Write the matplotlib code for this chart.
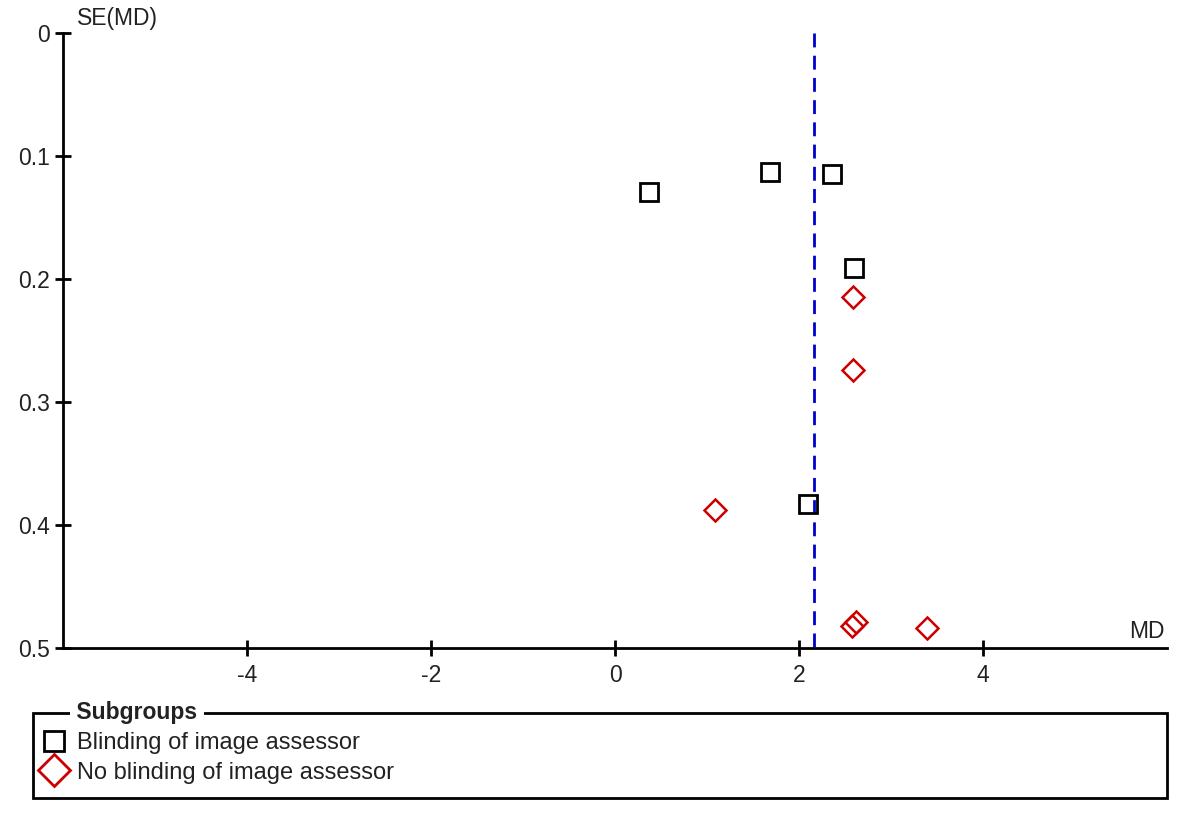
import numpy as np
import matplotlib.pyplot as plt
from matplotlib.patches import Rectangle
from matplotlib.lines import Line2D

plt.rcParams['font.family'] = ['Liberation Sans', 'DejaVu Sans']

# datos
md_blind = [0.37, 1.68, 2.36, 2.60, 2.10]
se_blind = [0.129, 0.113, 0.115, 0.191, 0.383]
md_noblind = [2.59, 2.59, 1.09, 2.58, 2.62, 3.39]
se_noblind = [0.215, 0.274, 0.388, 0.482, 0.479, 0.484]
md_pooled = 2.16

xticks = [-4, -2, 0, 2, 4]
yticks = [0, 0.1, 0.2, 0.3, 0.4, 0.5]
ytick_labels = ['0', '0.1', '0.2', '0.3', '0.4', '0.5']
grupos = ['Blinding of image assessor', 'No blinding of image assessor']

txt = '#222222'
rojo = '#cc0000'

fig = plt.figure(figsize=(12, 8.33), dpi=100)
ax = fig.add_axes([63/1200, 1 - 648/833, (1167-63)/1200, (648-33)/833])

ax.plot([md_pooled, md_pooled], [0, 0.5], color='#0000cc', lw=2, ls=(0, (5, 3)), zorder=1)
ax.plot(md_blind, se_blind, ls='none', marker='s', ms=12.5, mfc='none', mec='black', mew=2, zorder=3)
ax.plot(md_noblind, se_noblind, ls='none', marker='D', ms=11.5, mfc='none', mec=rojo, mew=1.8, zorder=3)

ax.set_xlim(-6, 6)
ax.set_ylim(0.5, 0)
for s in ['top', 'right']:
    ax.spines[s].set_visible(False)
ax.spines['left'].set_linewidth(2)
ax.spines['bottom'].set_linewidth(2)
ax.set_xticks(xticks)
ax.set_xticklabels([str(t) for t in xticks])
ax.set_yticks(yticks)
ax.set_yticklabels(ytick_labels)
ax.tick_params(direction='inout', length=11, width=2, labelsize=16.5, colors='black',
               labelcolor=txt, pad=4)
ax.tick_params(axis='x', pad=6)

fig.text(77/1200, 1 - 18/833, 'SE(MD)', fontsize=16.5, color=txt, ha='left', va='center')
fig.text(1165/1200, 1 - 631/833, 'MD', fontsize=16.5, color=txt, ha='right', va='center')

# leyenda manual
fig.add_artist(Rectangle((33/1200, 1 - 798/833), (1167-33)/1200, 85/833,
                         transform=fig.transFigure, fill=False, lw=2, ec='black'))
fig.text(70/1200, 1 - 713/833, ' Subgroups ', fontsize=16.5, fontweight='bold', color=txt,
         ha='left', va='center', bbox=dict(fc='white', ec='none', pad=0))
fig.add_artist(Line2D([54/1200], [1 - 741/833], transform=fig.transFigure, ls='none',
                      marker='s', ms=14.5, mfc='none', mec='black', mew=2))
fig.add_artist(Line2D([54/1200], [1 - 770/833], transform=fig.transFigure, ls='none',
                      marker='D', ms=16, mfc='none', mec=rojo, mew=2))
fig.text(77/1200, 1 - 743/833, grupos[0], fontsize=17, color=txt, ha='left', va='center')
fig.text(77/1200, 1 - 773/833, grupos[1], fontsize=17, color=txt, ha='left', va='center')

fig.savefig('out.png', dpi=100)
